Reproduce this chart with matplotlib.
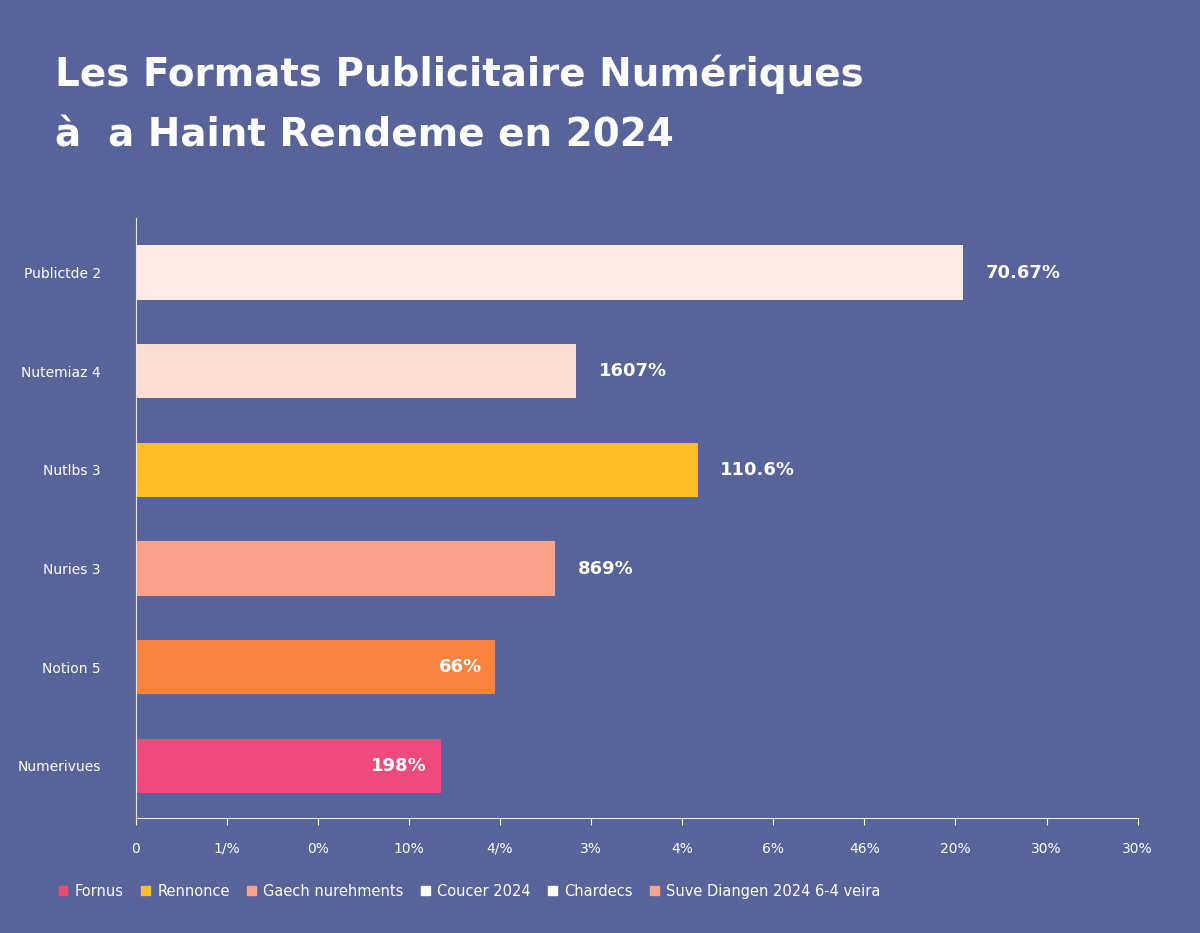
import matplotlib.pyplot as plt
from matplotlib.patches import Patch

categories = ["Publictde 2", "Nutemiaz 4", "Nutlbs 3", "Nuries 3", "Notion 5", "Numerivues"]
values = [9.08, 4.84, 6.17, 4.60, 3.95, 3.35]
value_labels = ["70.67%", "1607%", "110.6%", "869%", "66%", "198%"]
bar_colors = ["#FCEBE6", "#FBDDD3", "#FBBF24", "#F9A38C", "#F7843F", "#EE4A7E"]
tick_labels = ["0", "1/%", "0%", "10%", "4/%", "3%", "4%", "6%", "46%", "20%", "30%", "30%"]
legend_labels = ["Fornus", "Rennonce", "Gaech nurehments", "Coucer 2024", "Chardecs", "Suve Diangen 2024 6-4 veira"]
legend_colors = ["#EE4A6E", "#FBBF24", "#F9A38C", "#FFFFFF", "#FFFFFF", "#F9A38C"]

bg = "#58639A"
fig = plt.figure(figsize=(12, 9.33), dpi=100, facecolor=bg)
ax = fig.add_axes([0.113, 0.123, 0.835, 0.643], facecolor=bg)

pos = list(range(len(categories)))
ax.barh(pos, values, height=0.55, color=bar_colors)
for p, v, lab in zip(pos, values, value_labels):
    if v < 4.2 and p >= 4:
        ax.text(v - 0.15, p, lab, ha="right", va="center", color="white", fontsize=13, fontweight="bold")
    else:
        ax.text(v + 0.25, p, lab, ha="left", va="center", color="white", fontsize=13, fontweight="bold")

ax.set_ylim(len(categories) - 0.47, -0.55)
ax.set_xlim(0, 11)
ax.set_yticks(pos)
ax.set_yticklabels(categories, color="white", fontsize=10)
ax.set_xticks(range(len(tick_labels)))
ax.set_xticklabels(tick_labels, color="white", fontsize=10)
ax.tick_params(axis="y", length=0, pad=25)
ax.tick_params(axis="x", colors="white", length=5, pad=12)
for s in ["top", "right"]:
    ax.spines[s].set_visible(False)
ax.spines["left"].set_color("#E8E8F0")
ax.spines["bottom"].set_color("#E8E8F0")

fig.text(0.046, 0.92, "Les Formats Publicitaire Numériques", color="white", fontsize=28, fontweight="bold", va="center")
fig.text(0.046, 0.855, "à  a Haint Rendeme en 2024", color="white", fontsize=28, fontweight="bold", va="center")

handles = [Patch(color=c) for c in legend_colors]
fig.legend(handles, legend_labels, loc="center left", bbox_to_anchor=(0.038, 0.045), ncol=6, frameon=False,
           labelcolor="white", fontsize=10.5, handlelength=0.6, handleheight=0.6, columnspacing=1.2, handletextpad=0.5)

fig.savefig("out.png", facecolor=bg)
